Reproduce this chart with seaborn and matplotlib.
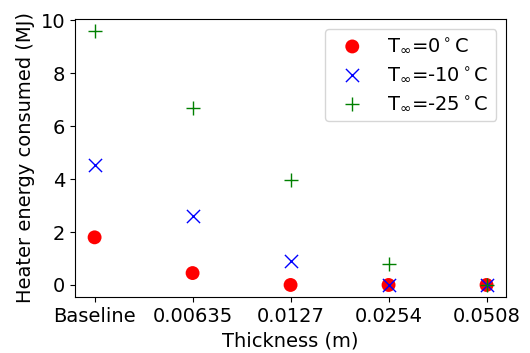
import matplotlib
matplotlib.use("Agg")
import matplotlib.pyplot as plt
import seaborn as sns
import pandas as pd

# === DADOS ===
thickness = ["Baseline", "0.00635", "0.0127", "0.0254", "0.0508"]
energy_0 = [1.8, 0.45, 0.0, 0.0, 0.0]
energy_m10 = [4.52, 2.6, 0.9, 0.0, 0.0]
energy_m25 = [9.58, 6.67, 3.95, 0.8, 0.0]

plt.rcParams["font.family"] = ["DejaVu Sans"]

fig, ax = plt.subplots(figsize=(5.3, 3.53), dpi=100)

df = pd.DataFrame({"x": thickness, "a": energy_0, "b": energy_m10, "c": energy_m25})

sns.scatterplot(data=df, x="x", y="a", marker="o", color="red", s=100,
                edgecolor="none", label=r"T$_\infty$=0$^\circ$C", ax=ax)
sns.scatterplot(data=df, x="x", y="b", marker="x", color="blue", s=90,
                linewidth=1.0, label=r"T$_\infty$=-10$^\circ$C", ax=ax)
sns.scatterplot(data=df, x="x", y="c", marker="+", color="green", s=90,
                linewidth=1.0, label=r"T$_\infty$=-25$^\circ$C", ax=ax)

ax.set_xlim(-0.2, 4.2)
ax.set_ylim(-0.45, 10.05)
ax.set_yticks([0, 2, 4, 6, 8, 10])
ax.set_xlabel("Thickness (m)", fontsize=14)
ax.set_ylabel("Heater energy consumed (MJ)", fontsize=14)
ax.tick_params(labelsize=14)
ax.legend(fontsize=14, loc="upper right")

plt.subplots_adjust(left=0.1415, right=0.955, top=0.946, bottom=0.159)
plt.savefig("out.png", dpi=100)
plt.close()
